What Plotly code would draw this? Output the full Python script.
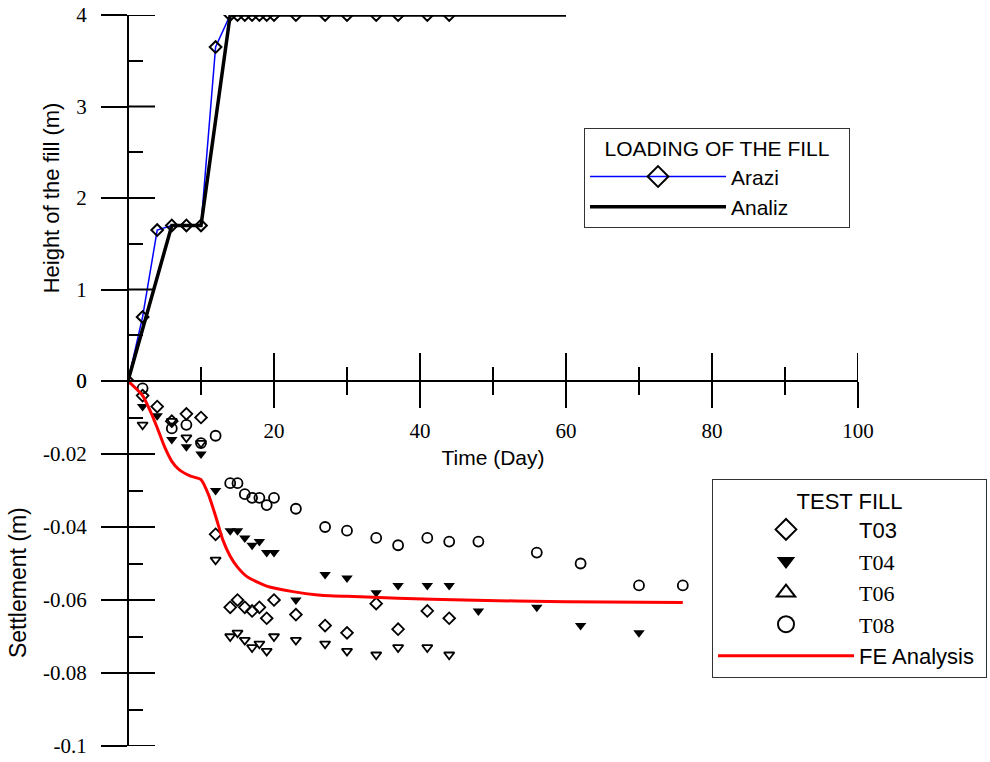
import plotly.graph_objects as go

# ---------------- data ----------------
# Loading of the fill (height, m) vs time (day)
ARAZI_DAY = [0, 2, 4, 6, 8, 10, 12, 14, 15, 16, 17, 18, 19, 20, 23, 27, 30, 34, 37, 41, 44]
ARAZI_H = [0, 0.7, 1.65, 1.7, 1.7, 1.7, 3.65, 4, 4, 4, 4, 4, 4, 4, 4, 4, 4, 4, 4, 4, 4]
ANALIZ_DAY = [0, 6, 10, 14, 60]
ANALIZ_H = [0, 1.7, 1.7, 4, 4]

# Settlement (m) vs time (day)
T03_DAY = [2, 4, 6, 8, 10, 12, 14, 15, 16, 17, 18, 19, 20, 23, 27, 30, 34, 37, 41, 44]
T03_S = [-0.004, -0.007, -0.011, -0.009, -0.010, -0.042, -0.062, -0.060, -0.062, -0.063,
         -0.062, -0.065, -0.060, -0.064, -0.067, -0.069, -0.061, -0.068, -0.063, -0.065]

T04_DAY = [0, 2, 4, 6, 8, 10, 12, 14, 15, 16, 17, 18, 19, 20, 23, 27, 30, 34, 37, 41, 44,
           48, 56, 62, 70]
T04_S = [0, -0.007, -0.0095, -0.016, -0.018, -0.020, -0.030, -0.041, -0.041, -0.043, -0.045,
         -0.044, -0.047, -0.047, -0.060, -0.053, -0.054, -0.058, -0.056, -0.056, -0.056,
         -0.063, -0.062, -0.067, -0.069]

T06_DAY = [2, 6, 8, 10, 12, 14, 15, 16, 17, 18, 19, 20, 23, 27, 30, 34, 37, 41, 44]
T06_S = [-0.012, -0.011, -0.0155, -0.017, -0.049, -0.070, -0.069, -0.071, -0.073, -0.072,
         -0.074, -0.070, -0.071, -0.072, -0.074, -0.075, -0.073, -0.073, -0.075]

T08_DAY = [2, 6, 8, 10, 12, 14, 15, 16, 17, 18, 19, 20, 23, 27, 30, 34, 37, 41, 44, 48,
           56, 62, 70, 76]
T08_S = [-0.002, -0.013, -0.012, -0.017, -0.015, -0.028, -0.028, -0.031, -0.032, -0.032,
         -0.034, -0.032, -0.035, -0.040, -0.041, -0.043, -0.045, -0.043, -0.044, -0.044,
         -0.047, -0.050, -0.056, -0.056]

FE_DAY = [0, 2, 3, 4, 5, 6, 7, 8.5, 10, 11, 12, 13, 14, 15, 16.3, 19, 22.6, 26, 30, 37,
          46, 60, 76]
FE_S = [0, -0.004, -0.008, -0.0128, -0.018, -0.022, -0.0243, -0.026, -0.027, -0.031,
        -0.037, -0.0436, -0.048, -0.051, -0.0536, -0.0562, -0.0577, -0.0586, -0.059,
        -0.0595, -0.060, -0.0605, -0.0607]

# axis ticks
X_TICKS = [20, 40, 60, 80, 100]
X_TICK_LABELS = ["20", "40", "60", "80", "100"]
X_MINOR = [10, 30, 50, 70, 90]
H_TICKS = [0, 1, 2, 3, 4]
H_TICK_LABELS = ["0", "1", "2", "3", "4"]
H_MINOR = [0.5, 1.5, 2.5, 3.5]
S_TICKS = [0, -0.02, -0.04, -0.06, -0.08, -0.1]
S_TICK_LABELS = ["0", "-0.02", "-0.04", "-0.06", "-0.08", "-0.1"]
S_MINOR = [-0.01, -0.03, -0.05, -0.07, -0.09]

# ---------------- styling ----------------
SANS = "Liberation Sans, Arial, sans-serif"
SERIF = "Liberation Serif, Times New Roman, serif"
FS = 21
P0 = 365 / 731  # fraction of the plot height where the time axis sits
NB = "&nbsp;"

def serif(txt):
    return "<span style='font-family:Liberation Serif'>" + txt + "</span>"

fig = go.Figure()

# ---- loading of the fill (top) ----
fig.add_trace(go.Scatter(
    x=ARAZI_DAY, y=ARAZI_H, name="Arazi", mode="lines+markers", showlegend=False,
    line=dict(color="#0000ff", width=1.5),
    marker=dict(symbol="diamond-open", size=9, color="black", line=dict(width=2, color="black")),
    xaxis="x", yaxis="y"))
fig.add_trace(go.Scatter(
    x=[None], y=[None], name="Arazi", mode="lines+markers",
    line=dict(color="#0000ff", width=1.5),
    marker=dict(symbol="diamond-open", size=16, color="black", line=dict(width=2, color="black")),
    xaxis="x", yaxis="y", legend="legend"))
fig.add_trace(go.Scatter(
    x=ANALIZ_DAY, y=ANALIZ_H, name="Analiz", mode="lines",
    line=dict(color="black", width=3.5),
    xaxis="x", yaxis="y", legend="legend"))

# ---- settlement (bottom) ----
MK = dict(color="black", width=1.8)
fig.add_trace(go.Scatter(
    x=T03_DAY, y=T03_S, name="T03", mode="markers", showlegend=False,
    marker=dict(symbol="diamond-open", size=9, color="black", line=MK),
    xaxis="x", yaxis="y2"))
fig.add_trace(go.Scatter(
    x=T04_DAY, y=T04_S, name="T04", mode="markers", showlegend=False,
    marker=dict(symbol="triangle-down", size=10, color="black", line=dict(width=0)),
    xaxis="x", yaxis="y2"))
fig.add_trace(go.Scatter(
    x=T06_DAY, y=T06_S, name="T06", mode="markers", showlegend=False,
    marker=dict(symbol="triangle-down-open", size=9, color="black", line=MK),
    xaxis="x", yaxis="y2"))
fig.add_trace(go.Scatter(
    x=T08_DAY, y=T08_S, name="T08", mode="markers", showlegend=False,
    marker=dict(symbol="circle-open", size=10, color="black", line=MK),
    xaxis="x", yaxis="y2"))
fig.add_trace(go.Scatter(
    x=FE_DAY, y=FE_S, name="FE Analysis", mode="lines", showlegend=False,
    line=dict(color="#ff0000", width=3, shape="spline", smoothing=0.6),
    xaxis="x", yaxis="y2"))

# legend keys of the test fill (larger symbols, as in the original key)
LEG2 = [
    ("T03", dict(symbol="diamond-open", size=16, color="black", line=dict(color="black", width=2))),
    (serif("T04"), dict(symbol="triangle-down", size=16, color="black", line=dict(width=0))),
    (serif("T06"), dict(symbol="triangle-up-open", size=16, color="black", line=dict(color="black", width=2))),
    (serif("T08"), dict(symbol="circle-open", size=16, color="black", line=dict(color="black", width=2))),
]
for nm, mk in LEG2:
    fig.add_trace(go.Scatter(x=[None], y=[None], name=nm, mode="markers", marker=mk,
                             xaxis="x", yaxis="y2", legend="legend2"))
fig.add_trace(go.Scatter(x=[None], y=[None], name="FE Analysis" + NB, mode="lines",
                         line=dict(color="#ff0000", width=3),
                         xaxis="x", yaxis="y2", legend="legend2"))

# ---- inside halves of the crossing tick marks (from the tick lists) ----
TK = dict(color="black", width=2)
shapes = []
for v in X_TICKS:
    shapes.append(dict(type="line", xref="x", yref="y", x0=v, x1=v, ysizemode="pixel",
                       yanchor=0, y0=0, y1=28, line=TK))
for v in X_MINOR:
    shapes.append(dict(type="line", xref="x", yref="y", x0=v, x1=v, ysizemode="pixel",
                       yanchor=0, y0=0, y1=14, line=TK))
for v in H_TICKS:
    shapes.append(dict(type="line", xref="x", yref="y", y0=v, y1=v, xsizemode="pixel",
                       xanchor=0, x0=0, x1=27, line=TK))
for v in S_TICKS:
    shapes.append(dict(type="line", xref="x", yref="y2", y0=v, y1=v, xsizemode="pixel",
                       xanchor=0, x0=0, x1=27, line=TK))

tickfont = dict(family=SERIF, size=FS, color="black")
common = dict(showgrid=False, zeroline=False, tickcolor="black", tickwidth=2, automargin=False,
              showline=True, linecolor="black", linewidth=2, ticks="outside", ticklen=26,
              tickfont=tickfont)

fig.update_layout(
    width=990, height=762,
    margin=dict(l=128, r=132, t=15, b=16, autoexpand=False),
    paper_bgcolor="white", plot_bgcolor="white",
    showlegend=True,
    shapes=shapes,
    xaxis=dict(domain=[0, 1], range=[0, 100], anchor="free", position=P0,
               tickvals=X_TICKS, ticktext=X_TICK_LABELS,
               minor=dict(tickvals=X_MINOR, ticks="outside", ticklen=13, tickwidth=2,
                          tickcolor="black", showgrid=False),
               ticklabelstandoff=5,
               title=dict(text="Time (Day)", font=dict(family=SANS, size=FS, color="black"), standoff=7),
               **common),
    yaxis=dict(domain=[P0, 1], range=[0, 4], anchor="free", position=0,
               tickvals=H_TICKS, ticktext=H_TICK_LABELS,
               minor=dict(tickvals=H_MINOR, ticks="inside", ticklen=14, tickwidth=2,
                          tickcolor="black", showgrid=False),
               ticklabelstandoff=10,
               title=dict(text="Height of the fill (m)", font=dict(family=SANS, size=22, color="black"), standoff=10),
               **common),
    yaxis2=dict(domain=[0, P0], range=[-0.1, 0], anchor="free", position=0,
                tickvals=S_TICKS, ticktext=S_TICK_LABELS,
                minor=dict(tickvals=S_MINOR, ticks="inside", ticklen=14, tickwidth=2,
                           tickcolor="black", showgrid=False),
                ticklabelstandoff=10,
                title=dict(text="Settlement (m)" + NB * 6, font=dict(family=SANS, size=23, color="black"), standoff=9),
                **common),
    legend=dict(x=(584 - 128) / 730, y=(746 - 128) / 731, xanchor="left", yanchor="top",
                bgcolor="white", bordercolor="#333333", borderwidth=1,
                font=dict(family=SANS, size=FS, color="black"),
                title=dict(text=NB * 3 + "LOADING OF THE FILL" + NB * 3, side="top center",
                           font=dict(family=SANS, size=FS, color="black")),
                itemwidth=136),
    legend2=dict(x=(712 - 128) / 730, y=(746 - 479) / 731, xanchor="left", yanchor="top",
                 bgcolor="white", bordercolor="#333333", borderwidth=1,
                 font=dict(family=SANS, size=22, color="black"),
                 title=dict(text="TEST FILL", side="top center",
                            font=dict(family=SANS, size=22, color="black")),
                 itemwidth=136),
)

fig.write_html("out.html")
